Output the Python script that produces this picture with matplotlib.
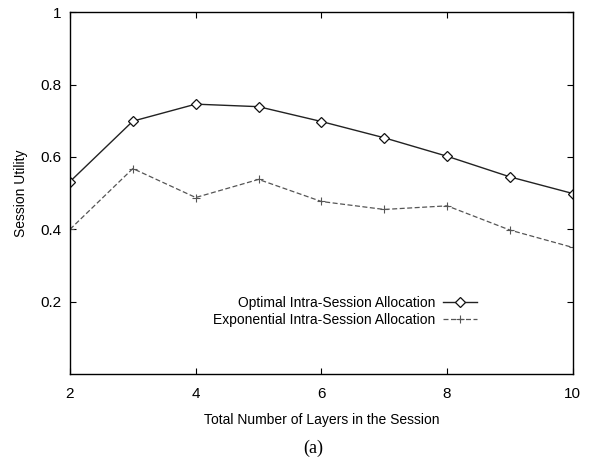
import matplotlib.pyplot as plt

plt.rcParams['font.family'] = ['Liberation Sans', 'DejaVu Sans']

layers = [2, 3, 4, 5, 6, 7, 8, 9, 10]
optimal = [0.532, 0.699, 0.746, 0.739, 0.698, 0.653, 0.602, 0.545, 0.499]
exponential = [0.400, 0.568, 0.488, 0.538, 0.477, 0.455, 0.465, 0.398, 0.350]

fig = plt.figure(figsize=(5.93, 4.70), dpi=100)
ax = fig.add_axes([0.118, 0.204, 0.848, 0.770])

ax.plot(layers, optimal, color='#222222', lw=1.0, marker='D', ms=5,
        mfc='white', mec='#111111', mew=0.9,
        label='Optimal Intra-Session Allocation')
ax.plot(layers, exponential, color='#555555', lw=0.9, ls=(0, (4, 2)),
        marker='+', ms=6, mew=0.8,
        label='Exponential Intra-Session Allocation')

ax.set_xlim(2, 10)
ax.set_ylim(0, 1)
ax.set_xticks([2, 4, 6, 8, 10])
ax.set_yticks([0.2, 0.4, 0.6, 0.8, 1.0])
ax.set_yticklabels(['0.2', '0.4', '0.6', '0.8', '1'])
ax.tick_params(direction='in', top=True, right=True, length=4, labelsize=11)
ax.tick_params(axis='x', pad=9)
ax.tick_params(axis='y', pad=6)
for s in ax.spines.values():
    s.set_linewidth(1.0)

ax.set_xlabel('Total Number of Layers in the Session', fontsize=10, labelpad=9)
ax.set_ylabel('Session Utility', fontsize=10, labelpad=9)

leg = ax.legend(loc='center right', bbox_to_anchor=(484 / 593, 0.337),
                bbox_transform=fig.transFigure, frameon=False,
                markerfirst=False, fontsize=10, handlelength=2.45,
                handletextpad=0.55, labelspacing=0.25, borderpad=0)
for t in leg.get_texts():
    t.set_ha('right')

fig.text(0.528, 0.047, '(a)', family=['Liberation Serif', 'DejaVu Serif'],
         fontsize=13, ha='center', va='center')

fig.savefig('out.png', dpi=100)
